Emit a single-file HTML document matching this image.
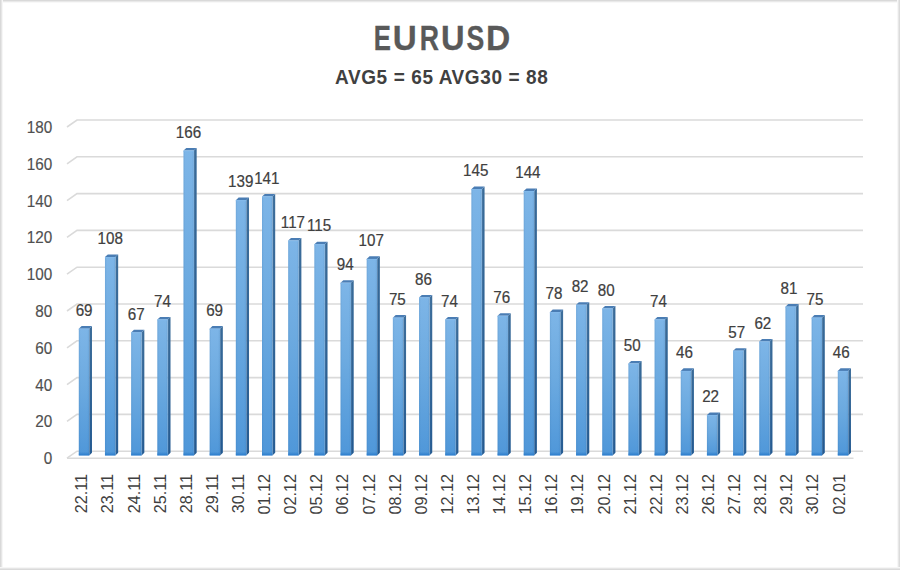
<!DOCTYPE html>
<html><head><meta charset="utf-8"><style>
html,body{margin:0;padding:0;background:#fff;}
body{width:900px;height:570px;position:relative;overflow:hidden;font-family:"Liberation Sans",sans-serif;}
svg text{font-family:"Liberation Sans",sans-serif;}
.bt{position:absolute;left:0;top:0;width:900px;height:3px;background:linear-gradient(to bottom,#d9d9d9 0,#d9d9d9 1px,#e9e9e9 1px,#e9e9e9 2px,#f8f8f8 2px);}
.bl{position:absolute;left:0;top:0;width:3px;height:570px;background:linear-gradient(to right,#d9d9d9 0,#d9d9d9 1px,#e6e6e6 1px,#e6e6e6 2px,#f6f6f6 2px);}
.br{position:absolute;right:0;top:0;width:3px;height:570px;background:linear-gradient(to left,#dbdbdb 0,#dbdbdb 1px,#e7e7e7 1px,#e7e7e7 2px,#f7f7f7 2px);}
.bb{position:absolute;left:0;bottom:0;width:900px;height:3px;background:linear-gradient(to top,#dadada 0,#dadada 1px,#e6e6e6 1px,#e6e6e6 2px,#f6f6f6 2px);}
</style></head><body>
<svg width="900" height="570" viewBox="0 0 900 570" style="position:absolute;left:0;top:0">
<defs>
<linearGradient id="frontv" x1="0" x2="0" y1="0" y2="1">
<stop offset="0" stop-color="#7db5e7"/>
<stop offset="0.45" stop-color="#6caae0"/>
<stop offset="1" stop-color="#4f97d9"/>
</linearGradient>
<linearGradient id="fronth" x1="0" x2="1" y1="0" y2="0">
<stop offset="0" stop-color="#1b4f85" stop-opacity="0.12"/>
<stop offset="0.18" stop-color="#1b4f85" stop-opacity="0"/>
<stop offset="0.8" stop-color="#1b4f85" stop-opacity="0"/>
<stop offset="1" stop-color="#1b4f85" stop-opacity="0.12"/>
</linearGradient>
<linearGradient id="side" x1="0" x2="0" y1="0" y2="1">
<stop offset="0" stop-color="#386a98"/>
<stop offset="1" stop-color="#215890"/>
</linearGradient>
<linearGradient id="sideh" x1="0" x2="1" y1="0" y2="0">
<stop offset="0" stop-color="#ffffff" stop-opacity="0.18"/>
<stop offset="0.5" stop-color="#ffffff" stop-opacity="0"/>
<stop offset="1" stop-color="#ffffff" stop-opacity="0.05"/>
</linearGradient>
<linearGradient id="band" x1="0" x2="0" y1="0" y2="1">
<stop offset="0" stop-color="#2a7ccc" stop-opacity="0"/>
<stop offset="1" stop-color="#2a7ccc" stop-opacity="1"/>
</linearGradient>
</defs>
<g font-size="35" font-weight="bold" fill="#595959" stroke="#595959" stroke-width="0.3"><text transform="translate(373.80,50.4) scale(0.735,1)">E</text><text transform="translate(392.71,50.4) scale(0.948,1)">U</text><text transform="translate(419.73,50.4) scale(0.762,1)">R</text><text transform="translate(441.04,50.4) scale(0.933,1)">U</text><text transform="translate(466.60,50.4) scale(0.762,1)">S</text><text transform="translate(485.95,50.4) scale(0.960,1)">D</text></g>
<text transform="translate(441.7,84.3) scale(1,1.09)" text-anchor="middle" font-size="19" letter-spacing="0.6" font-weight="bold" fill="#404040">AVG5 = 65 AVG30 = 88</text>
<g fill="none" stroke="#dadada" stroke-width="1.6"><path d="M67,458.20 L77,451.20 L863,451.20" /><path d="M67,458.20 L853.5,458.20" /><path d="M67,421.40 L77,414.40 L863,414.40" /><path d="M67,384.60 L77,377.60 L863,377.60" /><path d="M67,347.80 L77,340.80 L863,340.80" /><path d="M67,311.00 L77,304.00 L863,304.00" /><path d="M67,274.20 L77,267.20 L863,267.20" /><path d="M67,237.40 L77,230.40 L863,230.40" /><path d="M67,200.60 L77,193.60 L863,193.60" /><path d="M67,163.80 L77,156.80 L863,156.80" /><path d="M67,127.00 L77,120.00 L863,120.00" /></g><g font-size="16" fill="#505050" stroke="#505050" stroke-width="0.15"><text transform="translate(52.2,464.10) scale(0.955,1.03)" text-anchor="end">0</text><text transform="translate(52.2,427.30) scale(0.955,1.03)" text-anchor="end">20</text><text transform="translate(52.2,390.50) scale(0.955,1.03)" text-anchor="end">40</text><text transform="translate(52.2,353.70) scale(0.955,1.03)" text-anchor="end">60</text><text transform="translate(52.2,316.90) scale(0.955,1.03)" text-anchor="end">80</text><text transform="translate(52.2,280.10) scale(0.955,1.03)" text-anchor="end">100</text><text transform="translate(52.2,243.30) scale(0.955,1.03)" text-anchor="end">120</text><text transform="translate(52.2,206.50) scale(0.955,1.03)" text-anchor="end">140</text><text transform="translate(52.2,169.70) scale(0.955,1.03)" text-anchor="end">160</text><text transform="translate(52.2,132.90) scale(0.955,1.03)" text-anchor="end">180</text></g><g><path d="M89.20,328.72 L92.00,326.12 L92.00,452.80 L89.20,455.40 Z" fill="url(#side)"/><path d="M89.20,328.72 L92.00,326.12 L92.00,452.80 L89.20,455.40 Z" fill="url(#sideh)"/><path d="M78.80,328.72 L81.60,326.12 L92.00,326.12 L89.20,328.72 Z" fill="#4a7db4"/><rect x="78.80" y="328.72" width="10.4" height="126.68" fill="url(#frontv)"/><rect x="78.80" y="328.72" width="10.4" height="126.68" fill="url(#fronth)"/><rect x="78.80" y="328.72" width="10.4" height="1" fill="#80b8ea"/><rect x="78.80" y="451.90" width="10.4" height="3.5" fill="url(#band)"/><path d="M115.37,257.11 L118.17,254.51 L118.17,452.80 L115.37,455.40 Z" fill="url(#side)"/><path d="M115.37,257.11 L118.17,254.51 L118.17,452.80 L115.37,455.40 Z" fill="url(#sideh)"/><path d="M104.97,257.11 L107.77,254.51 L118.17,254.51 L115.37,257.11 Z" fill="#4a7db4"/><rect x="104.97" y="257.11" width="10.4" height="198.29" fill="url(#frontv)"/><rect x="104.97" y="257.11" width="10.4" height="198.29" fill="url(#fronth)"/><rect x="104.97" y="257.11" width="10.4" height="1" fill="#80b8ea"/><rect x="104.97" y="451.90" width="10.4" height="3.5" fill="url(#band)"/><path d="M141.54,332.39 L144.34,329.79 L144.34,452.80 L141.54,455.40 Z" fill="url(#side)"/><path d="M141.54,332.39 L144.34,329.79 L144.34,452.80 L141.54,455.40 Z" fill="url(#sideh)"/><path d="M131.14,332.39 L133.94,329.79 L144.34,329.79 L141.54,332.39 Z" fill="#4a7db4"/><rect x="131.14" y="332.39" width="10.4" height="123.01" fill="url(#frontv)"/><rect x="131.14" y="332.39" width="10.4" height="123.01" fill="url(#fronth)"/><rect x="131.14" y="332.39" width="10.4" height="1" fill="#80b8ea"/><rect x="131.14" y="451.90" width="10.4" height="3.5" fill="url(#band)"/><path d="M167.72,319.54 L170.52,316.94 L170.52,452.80 L167.72,455.40 Z" fill="url(#side)"/><path d="M167.72,319.54 L170.52,316.94 L170.52,452.80 L167.72,455.40 Z" fill="url(#sideh)"/><path d="M157.32,319.54 L160.12,316.94 L170.52,316.94 L167.72,319.54 Z" fill="#4a7db4"/><rect x="157.32" y="319.54" width="10.4" height="135.86" fill="url(#frontv)"/><rect x="157.32" y="319.54" width="10.4" height="135.86" fill="url(#fronth)"/><rect x="157.32" y="319.54" width="10.4" height="1" fill="#80b8ea"/><rect x="157.32" y="451.90" width="10.4" height="3.5" fill="url(#band)"/><path d="M193.89,150.62 L196.69,148.02 L196.69,452.80 L193.89,455.40 Z" fill="url(#side)"/><path d="M193.89,150.62 L196.69,148.02 L196.69,452.80 L193.89,455.40 Z" fill="url(#sideh)"/><path d="M183.49,150.62 L186.29,148.02 L196.69,148.02 L193.89,150.62 Z" fill="#4a7db4"/><rect x="183.49" y="150.62" width="10.4" height="304.78" fill="url(#frontv)"/><rect x="183.49" y="150.62" width="10.4" height="304.78" fill="url(#fronth)"/><rect x="183.49" y="150.62" width="10.4" height="1" fill="#80b8ea"/><rect x="183.49" y="451.90" width="10.4" height="3.5" fill="url(#band)"/><path d="M220.06,328.72 L222.86,326.12 L222.86,452.80 L220.06,455.40 Z" fill="url(#side)"/><path d="M220.06,328.72 L222.86,326.12 L222.86,452.80 L220.06,455.40 Z" fill="url(#sideh)"/><path d="M209.66,328.72 L212.46,326.12 L222.86,326.12 L220.06,328.72 Z" fill="#4a7db4"/><rect x="209.66" y="328.72" width="10.4" height="126.68" fill="url(#frontv)"/><rect x="209.66" y="328.72" width="10.4" height="126.68" fill="url(#fronth)"/><rect x="209.66" y="328.72" width="10.4" height="1" fill="#80b8ea"/><rect x="209.66" y="451.90" width="10.4" height="3.5" fill="url(#band)"/><path d="M246.23,200.20 L249.03,197.60 L249.03,452.80 L246.23,455.40 Z" fill="url(#side)"/><path d="M246.23,200.20 L249.03,197.60 L249.03,452.80 L246.23,455.40 Z" fill="url(#sideh)"/><path d="M235.83,200.20 L238.63,197.60 L249.03,197.60 L246.23,200.20 Z" fill="#4a7db4"/><rect x="235.83" y="200.20" width="10.4" height="255.20" fill="url(#frontv)"/><rect x="235.83" y="200.20" width="10.4" height="255.20" fill="url(#fronth)"/><rect x="235.83" y="200.20" width="10.4" height="1" fill="#80b8ea"/><rect x="235.83" y="451.90" width="10.4" height="3.5" fill="url(#band)"/><path d="M272.40,196.52 L275.20,193.92 L275.20,452.80 L272.40,455.40 Z" fill="url(#side)"/><path d="M272.40,196.52 L275.20,193.92 L275.20,452.80 L272.40,455.40 Z" fill="url(#sideh)"/><path d="M262.00,196.52 L264.80,193.92 L275.20,193.92 L272.40,196.52 Z" fill="#4a7db4"/><rect x="262.00" y="196.52" width="10.4" height="258.88" fill="url(#frontv)"/><rect x="262.00" y="196.52" width="10.4" height="258.88" fill="url(#fronth)"/><rect x="262.00" y="196.52" width="10.4" height="1" fill="#80b8ea"/><rect x="262.00" y="451.90" width="10.4" height="3.5" fill="url(#band)"/><path d="M298.58,240.59 L301.38,237.99 L301.38,452.80 L298.58,455.40 Z" fill="url(#side)"/><path d="M298.58,240.59 L301.38,237.99 L301.38,452.80 L298.58,455.40 Z" fill="url(#sideh)"/><path d="M288.18,240.59 L290.98,237.99 L301.38,237.99 L298.58,240.59 Z" fill="#4a7db4"/><rect x="288.18" y="240.59" width="10.4" height="214.81" fill="url(#frontv)"/><rect x="288.18" y="240.59" width="10.4" height="214.81" fill="url(#fronth)"/><rect x="288.18" y="240.59" width="10.4" height="1" fill="#80b8ea"/><rect x="288.18" y="451.90" width="10.4" height="3.5" fill="url(#band)"/><path d="M324.75,244.26 L327.55,241.66 L327.55,452.80 L324.75,455.40 Z" fill="url(#side)"/><path d="M324.75,244.26 L327.55,241.66 L327.55,452.80 L324.75,455.40 Z" fill="url(#sideh)"/><path d="M314.35,244.26 L317.15,241.66 L327.55,241.66 L324.75,244.26 Z" fill="#4a7db4"/><rect x="314.35" y="244.26" width="10.4" height="211.14" fill="url(#frontv)"/><rect x="314.35" y="244.26" width="10.4" height="211.14" fill="url(#fronth)"/><rect x="314.35" y="244.26" width="10.4" height="1" fill="#80b8ea"/><rect x="314.35" y="451.90" width="10.4" height="3.5" fill="url(#band)"/><path d="M350.92,282.82 L353.72,280.22 L353.72,452.80 L350.92,455.40 Z" fill="url(#side)"/><path d="M350.92,282.82 L353.72,280.22 L353.72,452.80 L350.92,455.40 Z" fill="url(#sideh)"/><path d="M340.52,282.82 L343.32,280.22 L353.72,280.22 L350.92,282.82 Z" fill="#4a7db4"/><rect x="340.52" y="282.82" width="10.4" height="172.58" fill="url(#frontv)"/><rect x="340.52" y="282.82" width="10.4" height="172.58" fill="url(#fronth)"/><rect x="340.52" y="282.82" width="10.4" height="1" fill="#80b8ea"/><rect x="340.52" y="451.90" width="10.4" height="3.5" fill="url(#band)"/><path d="M377.09,258.95 L379.89,256.35 L379.89,452.80 L377.09,455.40 Z" fill="url(#side)"/><path d="M377.09,258.95 L379.89,256.35 L379.89,452.80 L377.09,455.40 Z" fill="url(#sideh)"/><path d="M366.69,258.95 L369.49,256.35 L379.89,256.35 L377.09,258.95 Z" fill="#4a7db4"/><rect x="366.69" y="258.95" width="10.4" height="196.45" fill="url(#frontv)"/><rect x="366.69" y="258.95" width="10.4" height="196.45" fill="url(#fronth)"/><rect x="366.69" y="258.95" width="10.4" height="1" fill="#80b8ea"/><rect x="366.69" y="451.90" width="10.4" height="3.5" fill="url(#band)"/><path d="M403.26,317.70 L406.06,315.10 L406.06,452.80 L403.26,455.40 Z" fill="url(#side)"/><path d="M403.26,317.70 L406.06,315.10 L406.06,452.80 L403.26,455.40 Z" fill="url(#sideh)"/><path d="M392.86,317.70 L395.66,315.10 L406.06,315.10 L403.26,317.70 Z" fill="#4a7db4"/><rect x="392.86" y="317.70" width="10.4" height="137.70" fill="url(#frontv)"/><rect x="392.86" y="317.70" width="10.4" height="137.70" fill="url(#fronth)"/><rect x="392.86" y="317.70" width="10.4" height="1" fill="#80b8ea"/><rect x="392.86" y="451.90" width="10.4" height="3.5" fill="url(#band)"/><path d="M429.44,297.50 L432.24,294.90 L432.24,452.80 L429.44,455.40 Z" fill="url(#side)"/><path d="M429.44,297.50 L432.24,294.90 L432.24,452.80 L429.44,455.40 Z" fill="url(#sideh)"/><path d="M419.04,297.50 L421.84,294.90 L432.24,294.90 L429.44,297.50 Z" fill="#4a7db4"/><rect x="419.04" y="297.50" width="10.4" height="157.90" fill="url(#frontv)"/><rect x="419.04" y="297.50" width="10.4" height="157.90" fill="url(#fronth)"/><rect x="419.04" y="297.50" width="10.4" height="1" fill="#80b8ea"/><rect x="419.04" y="451.90" width="10.4" height="3.5" fill="url(#band)"/><path d="M455.61,319.54 L458.41,316.94 L458.41,452.80 L455.61,455.40 Z" fill="url(#side)"/><path d="M455.61,319.54 L458.41,316.94 L458.41,452.80 L455.61,455.40 Z" fill="url(#sideh)"/><path d="M445.21,319.54 L448.01,316.94 L458.41,316.94 L455.61,319.54 Z" fill="#4a7db4"/><rect x="445.21" y="319.54" width="10.4" height="135.86" fill="url(#frontv)"/><rect x="445.21" y="319.54" width="10.4" height="135.86" fill="url(#fronth)"/><rect x="445.21" y="319.54" width="10.4" height="1" fill="#80b8ea"/><rect x="445.21" y="451.90" width="10.4" height="3.5" fill="url(#band)"/><path d="M481.78,189.18 L484.58,186.58 L484.58,452.80 L481.78,455.40 Z" fill="url(#side)"/><path d="M481.78,189.18 L484.58,186.58 L484.58,452.80 L481.78,455.40 Z" fill="url(#sideh)"/><path d="M471.38,189.18 L474.18,186.58 L484.58,186.58 L481.78,189.18 Z" fill="#4a7db4"/><rect x="471.38" y="189.18" width="10.4" height="266.22" fill="url(#frontv)"/><rect x="471.38" y="189.18" width="10.4" height="266.22" fill="url(#fronth)"/><rect x="471.38" y="189.18" width="10.4" height="1" fill="#80b8ea"/><rect x="471.38" y="451.90" width="10.4" height="3.5" fill="url(#band)"/><path d="M507.95,315.86 L510.75,313.26 L510.75,452.80 L507.95,455.40 Z" fill="url(#side)"/><path d="M507.95,315.86 L510.75,313.26 L510.75,452.80 L507.95,455.40 Z" fill="url(#sideh)"/><path d="M497.55,315.86 L500.35,313.26 L510.75,313.26 L507.95,315.86 Z" fill="#4a7db4"/><rect x="497.55" y="315.86" width="10.4" height="139.54" fill="url(#frontv)"/><rect x="497.55" y="315.86" width="10.4" height="139.54" fill="url(#fronth)"/><rect x="497.55" y="315.86" width="10.4" height="1" fill="#80b8ea"/><rect x="497.55" y="451.90" width="10.4" height="3.5" fill="url(#band)"/><path d="M534.12,191.02 L536.92,188.42 L536.92,452.80 L534.12,455.40 Z" fill="url(#side)"/><path d="M534.12,191.02 L536.92,188.42 L536.92,452.80 L534.12,455.40 Z" fill="url(#sideh)"/><path d="M523.72,191.02 L526.52,188.42 L536.92,188.42 L534.12,191.02 Z" fill="#4a7db4"/><rect x="523.72" y="191.02" width="10.4" height="264.38" fill="url(#frontv)"/><rect x="523.72" y="191.02" width="10.4" height="264.38" fill="url(#fronth)"/><rect x="523.72" y="191.02" width="10.4" height="1" fill="#80b8ea"/><rect x="523.72" y="451.90" width="10.4" height="3.5" fill="url(#band)"/><path d="M560.30,312.19 L563.10,309.59 L563.10,452.80 L560.30,455.40 Z" fill="url(#side)"/><path d="M560.30,312.19 L563.10,309.59 L563.10,452.80 L560.30,455.40 Z" fill="url(#sideh)"/><path d="M549.90,312.19 L552.70,309.59 L563.10,309.59 L560.30,312.19 Z" fill="#4a7db4"/><rect x="549.90" y="312.19" width="10.4" height="143.21" fill="url(#frontv)"/><rect x="549.90" y="312.19" width="10.4" height="143.21" fill="url(#fronth)"/><rect x="549.90" y="312.19" width="10.4" height="1" fill="#80b8ea"/><rect x="549.90" y="451.90" width="10.4" height="3.5" fill="url(#band)"/><path d="M586.47,304.85 L589.27,302.25 L589.27,452.80 L586.47,455.40 Z" fill="url(#side)"/><path d="M586.47,304.85 L589.27,302.25 L589.27,452.80 L586.47,455.40 Z" fill="url(#sideh)"/><path d="M576.07,304.85 L578.87,302.25 L589.27,302.25 L586.47,304.85 Z" fill="#4a7db4"/><rect x="576.07" y="304.85" width="10.4" height="150.55" fill="url(#frontv)"/><rect x="576.07" y="304.85" width="10.4" height="150.55" fill="url(#fronth)"/><rect x="576.07" y="304.85" width="10.4" height="1" fill="#80b8ea"/><rect x="576.07" y="451.90" width="10.4" height="3.5" fill="url(#band)"/><path d="M612.64,308.52 L615.44,305.92 L615.44,452.80 L612.64,455.40 Z" fill="url(#side)"/><path d="M612.64,308.52 L615.44,305.92 L615.44,452.80 L612.64,455.40 Z" fill="url(#sideh)"/><path d="M602.24,308.52 L605.04,305.92 L615.44,305.92 L612.64,308.52 Z" fill="#4a7db4"/><rect x="602.24" y="308.52" width="10.4" height="146.88" fill="url(#frontv)"/><rect x="602.24" y="308.52" width="10.4" height="146.88" fill="url(#fronth)"/><rect x="602.24" y="308.52" width="10.4" height="1" fill="#80b8ea"/><rect x="602.24" y="451.90" width="10.4" height="3.5" fill="url(#band)"/><path d="M638.81,363.60 L641.61,361.00 L641.61,452.80 L638.81,455.40 Z" fill="url(#side)"/><path d="M638.81,363.60 L641.61,361.00 L641.61,452.80 L638.81,455.40 Z" fill="url(#sideh)"/><path d="M628.41,363.60 L631.21,361.00 L641.61,361.00 L638.81,363.60 Z" fill="#4a7db4"/><rect x="628.41" y="363.60" width="10.4" height="91.80" fill="url(#frontv)"/><rect x="628.41" y="363.60" width="10.4" height="91.80" fill="url(#fronth)"/><rect x="628.41" y="363.60" width="10.4" height="1" fill="#80b8ea"/><rect x="628.41" y="451.90" width="10.4" height="3.5" fill="url(#band)"/><path d="M664.98,319.54 L667.78,316.94 L667.78,452.80 L664.98,455.40 Z" fill="url(#side)"/><path d="M664.98,319.54 L667.78,316.94 L667.78,452.80 L664.98,455.40 Z" fill="url(#sideh)"/><path d="M654.58,319.54 L657.38,316.94 L667.78,316.94 L664.98,319.54 Z" fill="#4a7db4"/><rect x="654.58" y="319.54" width="10.4" height="135.86" fill="url(#frontv)"/><rect x="654.58" y="319.54" width="10.4" height="135.86" fill="url(#fronth)"/><rect x="654.58" y="319.54" width="10.4" height="1" fill="#80b8ea"/><rect x="654.58" y="451.90" width="10.4" height="3.5" fill="url(#band)"/><path d="M691.16,370.94 L693.96,368.34 L693.96,452.80 L691.16,455.40 Z" fill="url(#side)"/><path d="M691.16,370.94 L693.96,368.34 L693.96,452.80 L691.16,455.40 Z" fill="url(#sideh)"/><path d="M680.76,370.94 L683.56,368.34 L693.96,368.34 L691.16,370.94 Z" fill="#4a7db4"/><rect x="680.76" y="370.94" width="10.4" height="84.46" fill="url(#frontv)"/><rect x="680.76" y="370.94" width="10.4" height="84.46" fill="url(#fronth)"/><rect x="680.76" y="370.94" width="10.4" height="1" fill="#80b8ea"/><rect x="680.76" y="451.90" width="10.4" height="3.5" fill="url(#band)"/><path d="M717.33,415.01 L720.13,412.41 L720.13,452.80 L717.33,455.40 Z" fill="url(#side)"/><path d="M717.33,415.01 L720.13,412.41 L720.13,452.80 L717.33,455.40 Z" fill="url(#sideh)"/><path d="M706.93,415.01 L709.73,412.41 L720.13,412.41 L717.33,415.01 Z" fill="#4a7db4"/><rect x="706.93" y="415.01" width="10.4" height="40.39" fill="url(#frontv)"/><rect x="706.93" y="415.01" width="10.4" height="40.39" fill="url(#fronth)"/><rect x="706.93" y="415.01" width="10.4" height="1" fill="#80b8ea"/><rect x="706.93" y="451.90" width="10.4" height="3.5" fill="url(#band)"/><path d="M743.50,350.75 L746.30,348.15 L746.30,452.80 L743.50,455.40 Z" fill="url(#side)"/><path d="M743.50,350.75 L746.30,348.15 L746.30,452.80 L743.50,455.40 Z" fill="url(#sideh)"/><path d="M733.10,350.75 L735.90,348.15 L746.30,348.15 L743.50,350.75 Z" fill="#4a7db4"/><rect x="733.10" y="350.75" width="10.4" height="104.65" fill="url(#frontv)"/><rect x="733.10" y="350.75" width="10.4" height="104.65" fill="url(#fronth)"/><rect x="733.10" y="350.75" width="10.4" height="1" fill="#80b8ea"/><rect x="733.10" y="451.90" width="10.4" height="3.5" fill="url(#band)"/><path d="M769.67,341.57 L772.47,338.97 L772.47,452.80 L769.67,455.40 Z" fill="url(#side)"/><path d="M769.67,341.57 L772.47,338.97 L772.47,452.80 L769.67,455.40 Z" fill="url(#sideh)"/><path d="M759.27,341.57 L762.07,338.97 L772.47,338.97 L769.67,341.57 Z" fill="#4a7db4"/><rect x="759.27" y="341.57" width="10.4" height="113.83" fill="url(#frontv)"/><rect x="759.27" y="341.57" width="10.4" height="113.83" fill="url(#fronth)"/><rect x="759.27" y="341.57" width="10.4" height="1" fill="#80b8ea"/><rect x="759.27" y="451.90" width="10.4" height="3.5" fill="url(#band)"/><path d="M795.84,306.68 L798.64,304.08 L798.64,452.80 L795.84,455.40 Z" fill="url(#side)"/><path d="M795.84,306.68 L798.64,304.08 L798.64,452.80 L795.84,455.40 Z" fill="url(#sideh)"/><path d="M785.44,306.68 L788.24,304.08 L798.64,304.08 L795.84,306.68 Z" fill="#4a7db4"/><rect x="785.44" y="306.68" width="10.4" height="148.72" fill="url(#frontv)"/><rect x="785.44" y="306.68" width="10.4" height="148.72" fill="url(#fronth)"/><rect x="785.44" y="306.68" width="10.4" height="1" fill="#80b8ea"/><rect x="785.44" y="451.90" width="10.4" height="3.5" fill="url(#band)"/><path d="M822.02,317.70 L824.82,315.10 L824.82,452.80 L822.02,455.40 Z" fill="url(#side)"/><path d="M822.02,317.70 L824.82,315.10 L824.82,452.80 L822.02,455.40 Z" fill="url(#sideh)"/><path d="M811.62,317.70 L814.42,315.10 L824.82,315.10 L822.02,317.70 Z" fill="#4a7db4"/><rect x="811.62" y="317.70" width="10.4" height="137.70" fill="url(#frontv)"/><rect x="811.62" y="317.70" width="10.4" height="137.70" fill="url(#fronth)"/><rect x="811.62" y="317.70" width="10.4" height="1" fill="#80b8ea"/><rect x="811.62" y="451.90" width="10.4" height="3.5" fill="url(#band)"/><path d="M848.19,370.94 L850.99,368.34 L850.99,452.80 L848.19,455.40 Z" fill="url(#side)"/><path d="M848.19,370.94 L850.99,368.34 L850.99,452.80 L848.19,455.40 Z" fill="url(#sideh)"/><path d="M837.79,370.94 L840.59,368.34 L850.99,368.34 L848.19,370.94 Z" fill="#4a7db4"/><rect x="837.79" y="370.94" width="10.4" height="84.46" fill="url(#frontv)"/><rect x="837.79" y="370.94" width="10.4" height="84.46" fill="url(#fronth)"/><rect x="837.79" y="370.94" width="10.4" height="1" fill="#80b8ea"/><rect x="837.79" y="451.90" width="10.4" height="3.5" fill="url(#band)"/></g><g font-size="16" fill="#404040" stroke="#404040" stroke-width="0.2"><text transform="translate(84.10,315.92) scale(0.95,1.08)" text-anchor="middle">69</text><text transform="translate(110.20,244.31) scale(0.95,1.08)" text-anchor="middle">108</text><text transform="translate(136.31,319.59) scale(0.95,1.08)" text-anchor="middle">67</text><text transform="translate(162.41,306.74) scale(0.95,1.08)" text-anchor="middle">74</text><text transform="translate(188.52,137.82) scale(0.95,1.08)" text-anchor="middle">166</text><text transform="translate(214.62,315.92) scale(0.95,1.08)" text-anchor="middle">69</text><text transform="translate(240.73,187.40) scale(0.95,1.08)" text-anchor="middle">139</text><text transform="translate(266.84,183.72) scale(0.95,1.08)" text-anchor="middle">141</text><text transform="translate(292.94,227.79) scale(0.95,1.08)" text-anchor="middle">117</text><text transform="translate(319.04,231.46) scale(0.95,1.08)" text-anchor="middle">115</text><text transform="translate(345.15,270.02) scale(0.95,1.08)" text-anchor="middle">94</text><text transform="translate(371.25,246.15) scale(0.95,1.08)" text-anchor="middle">107</text><text transform="translate(397.36,304.90) scale(0.95,1.08)" text-anchor="middle">75</text><text transform="translate(423.47,284.70) scale(0.95,1.08)" text-anchor="middle">86</text><text transform="translate(449.57,306.74) scale(0.95,1.08)" text-anchor="middle">74</text><text transform="translate(475.67,176.38) scale(0.95,1.08)" text-anchor="middle">145</text><text transform="translate(501.78,303.06) scale(0.95,1.08)" text-anchor="middle">76</text><text transform="translate(527.88,178.22) scale(0.95,1.08)" text-anchor="middle">144</text><text transform="translate(553.99,299.39) scale(0.95,1.08)" text-anchor="middle">78</text><text transform="translate(580.10,292.05) scale(0.95,1.08)" text-anchor="middle">82</text><text transform="translate(606.20,295.72) scale(0.95,1.08)" text-anchor="middle">80</text><text transform="translate(632.31,350.80) scale(0.95,1.08)" text-anchor="middle">50</text><text transform="translate(658.41,306.74) scale(0.95,1.08)" text-anchor="middle">74</text><text transform="translate(684.51,358.14) scale(0.95,1.08)" text-anchor="middle">46</text><text transform="translate(710.62,402.21) scale(0.95,1.08)" text-anchor="middle">22</text><text transform="translate(736.73,337.95) scale(0.95,1.08)" text-anchor="middle">57</text><text transform="translate(762.83,328.77) scale(0.95,1.08)" text-anchor="middle">62</text><text transform="translate(788.94,293.88) scale(0.95,1.08)" text-anchor="middle">81</text><text transform="translate(815.04,304.90) scale(0.95,1.08)" text-anchor="middle">75</text><text transform="translate(841.14,358.14) scale(0.95,1.08)" text-anchor="middle">46</text></g><g font-size="16" fill="#404040"><text transform="translate(87.30,474.0) rotate(-90) scale(1.01,0.975)" text-anchor="end">22.11</text><text transform="translate(113.41,474.0) rotate(-90) scale(1.01,0.975)" text-anchor="end">23.11</text><text transform="translate(139.52,474.0) rotate(-90) scale(1.01,0.975)" text-anchor="end">24.11</text><text transform="translate(165.63,474.0) rotate(-90) scale(1.01,0.975)" text-anchor="end">25.11</text><text transform="translate(191.74,474.0) rotate(-90) scale(1.01,0.975)" text-anchor="end">28.11</text><text transform="translate(217.86,474.0) rotate(-90) scale(1.01,0.975)" text-anchor="end">29.11</text><text transform="translate(243.97,474.0) rotate(-90) scale(1.01,0.975)" text-anchor="end">30.11</text><text transform="translate(270.08,474.0) rotate(-90) scale(1.01,0.975)" text-anchor="end">01.12</text><text transform="translate(296.19,474.0) rotate(-90) scale(1.01,0.975)" text-anchor="end">02.12</text><text transform="translate(322.30,474.0) rotate(-90) scale(1.01,0.975)" text-anchor="end">05.12</text><text transform="translate(348.41,474.0) rotate(-90) scale(1.01,0.975)" text-anchor="end">06.12</text><text transform="translate(374.52,474.0) rotate(-90) scale(1.01,0.975)" text-anchor="end">07.12</text><text transform="translate(400.63,474.0) rotate(-90) scale(1.01,0.975)" text-anchor="end">08.12</text><text transform="translate(426.74,474.0) rotate(-90) scale(1.01,0.975)" text-anchor="end">09.12</text><text transform="translate(452.85,474.0) rotate(-90) scale(1.01,0.975)" text-anchor="end">12.12</text><text transform="translate(478.97,474.0) rotate(-90) scale(1.01,0.975)" text-anchor="end">13.12</text><text transform="translate(505.08,474.0) rotate(-90) scale(1.01,0.975)" text-anchor="end">14.12</text><text transform="translate(531.19,474.0) rotate(-90) scale(1.01,0.975)" text-anchor="end">15.12</text><text transform="translate(557.30,474.0) rotate(-90) scale(1.01,0.975)" text-anchor="end">16.12</text><text transform="translate(583.41,474.0) rotate(-90) scale(1.01,0.975)" text-anchor="end">19.12</text><text transform="translate(609.52,474.0) rotate(-90) scale(1.01,0.975)" text-anchor="end">20.12</text><text transform="translate(635.63,474.0) rotate(-90) scale(1.01,0.975)" text-anchor="end">21.12</text><text transform="translate(661.74,474.0) rotate(-90) scale(1.01,0.975)" text-anchor="end">22.12</text><text transform="translate(687.85,474.0) rotate(-90) scale(1.01,0.975)" text-anchor="end">23.12</text><text transform="translate(713.96,474.0) rotate(-90) scale(1.01,0.975)" text-anchor="end">26.12</text><text transform="translate(740.07,474.0) rotate(-90) scale(1.01,0.975)" text-anchor="end">27.12</text><text transform="translate(766.19,474.0) rotate(-90) scale(1.01,0.975)" text-anchor="end">28.12</text><text transform="translate(792.30,474.0) rotate(-90) scale(1.01,0.975)" text-anchor="end">29.12</text><text transform="translate(818.41,474.0) rotate(-90) scale(1.01,0.975)" text-anchor="end">30.12</text><text transform="translate(844.52,474.0) rotate(-90) scale(1.01,0.975)" text-anchor="end">02.01</text></g>
</svg>
<div class="bt"></div><div class="bl"></div><div class="br"></div><div class="bb"></div>
</body></html>
